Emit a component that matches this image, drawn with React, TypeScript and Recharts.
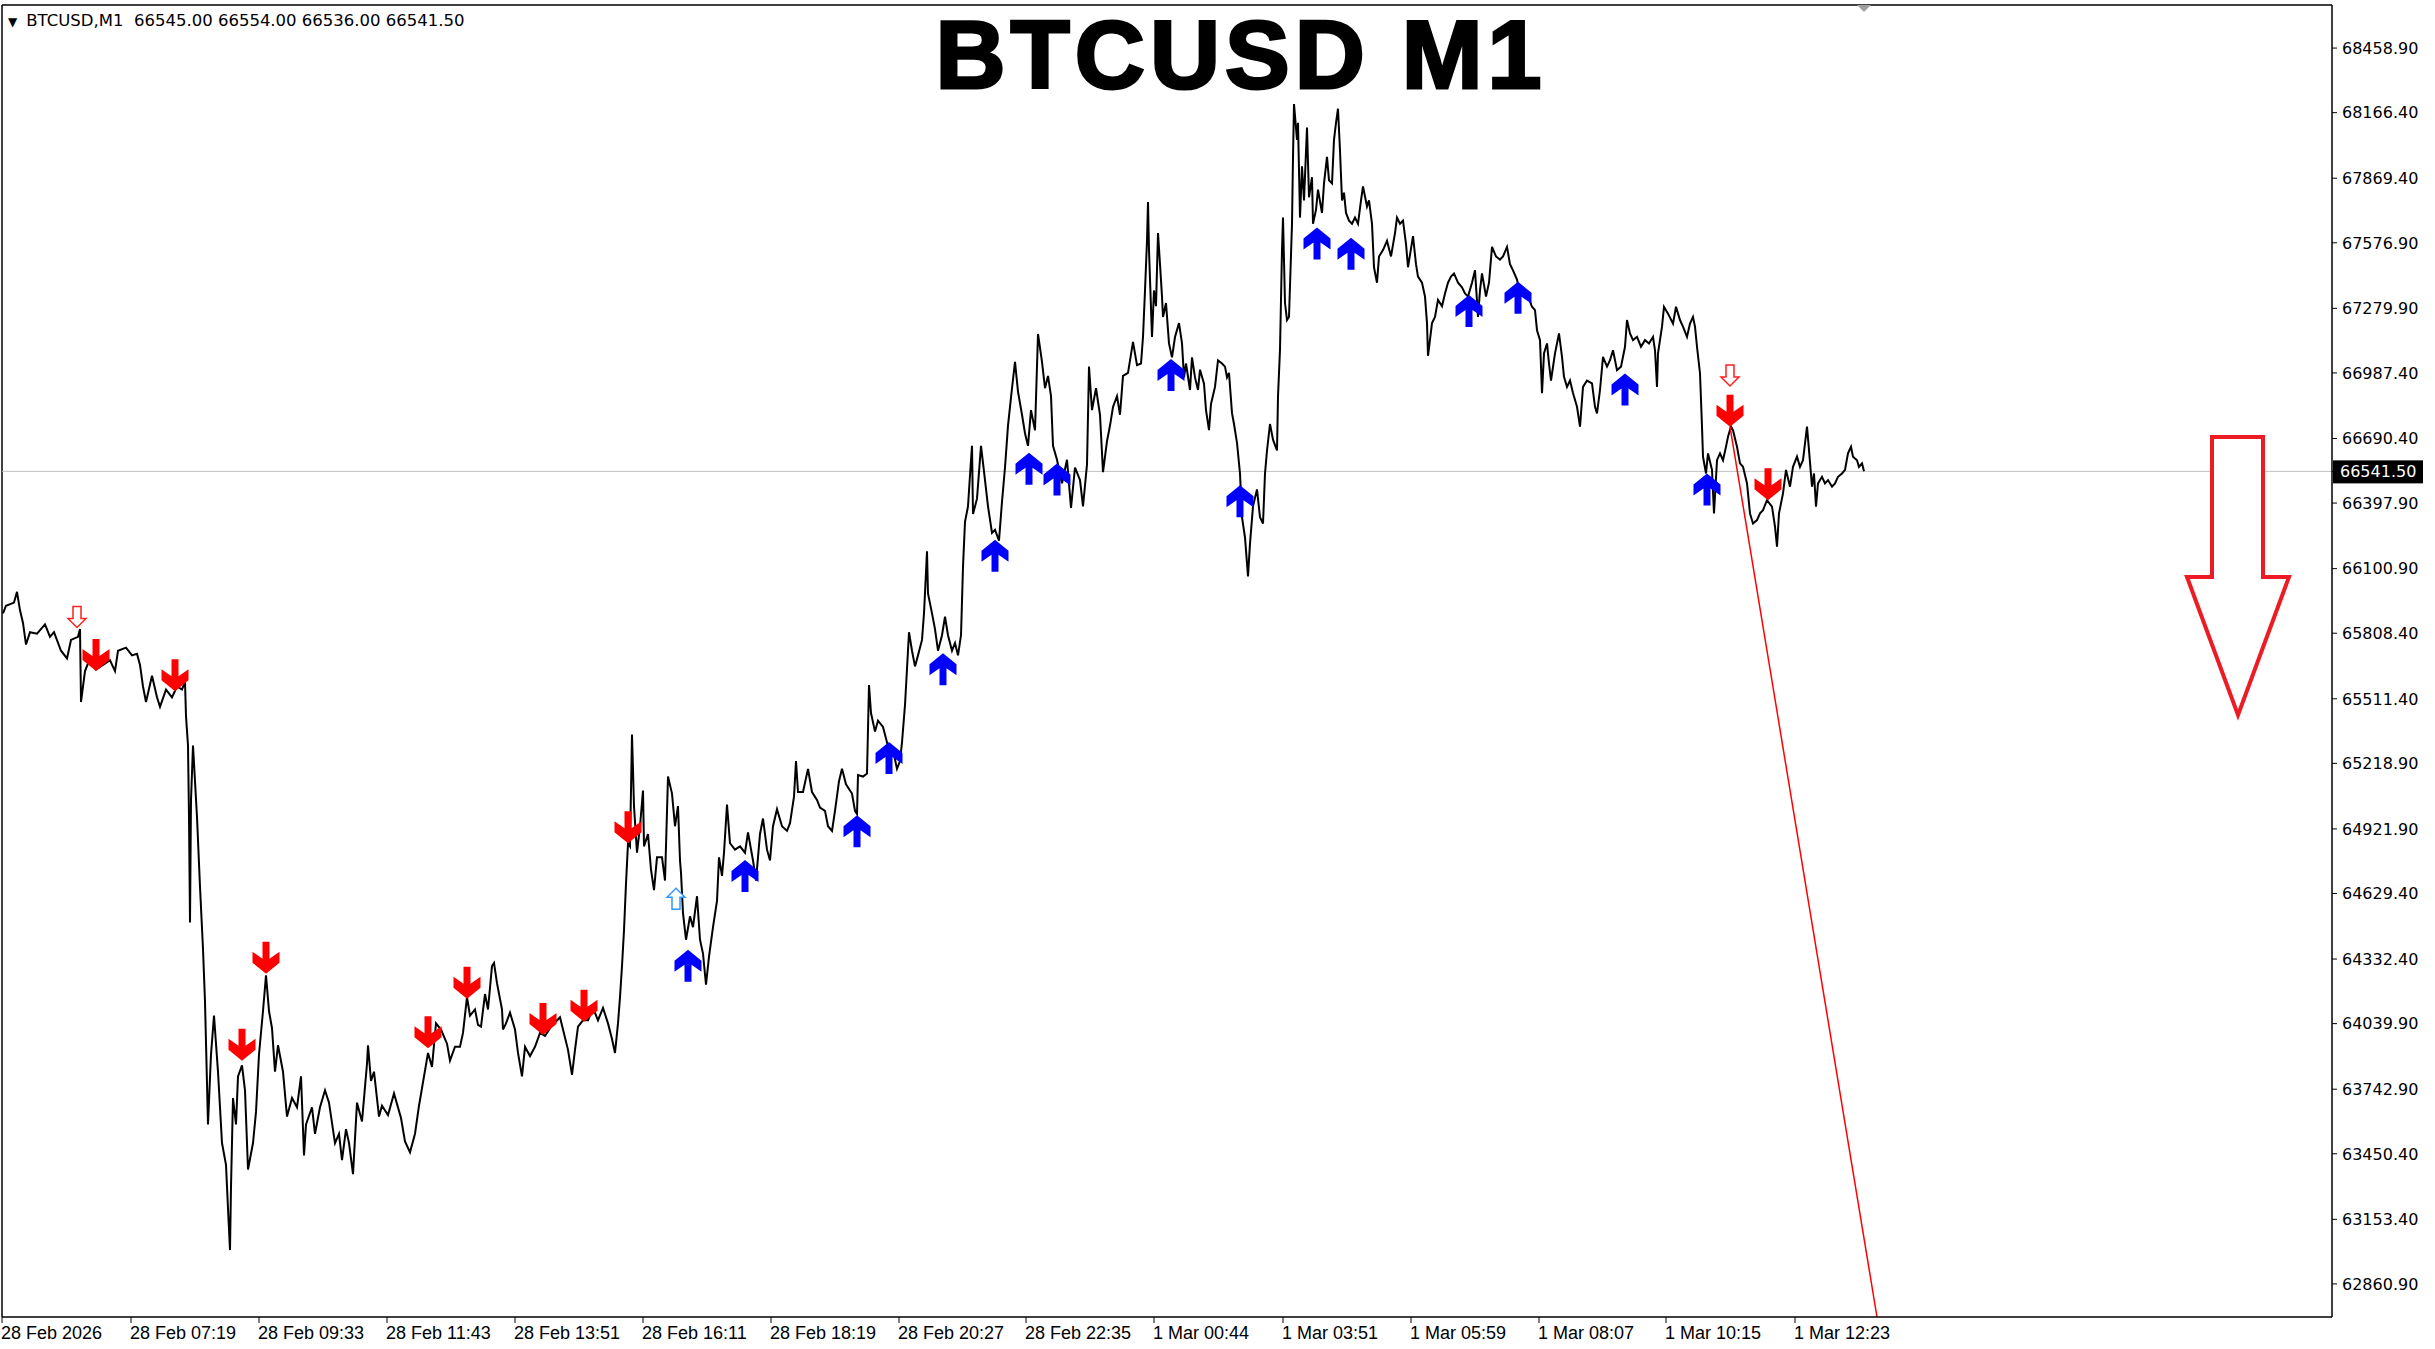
import { ComposedChart, Line, Scatter, XAxis, YAxis, ReferenceLine, ReferenceDot } from 'recharts';

// price axis range of the visible window
const Y_MIN = 62711;
const Y_MAX = 68654;
// bar index range (M1 chart, one bar per pixel)
const X_MIN = 2;
const X_MAX = 2332;
const LAST_PRICE = 66541.5;

const priceTicks = [
  68458.9, 68166.4, 67869.4, 67576.9, 67279.9, 66987.4, 66690.4, 66397.9, 66100.9, 65808.4,
  65511.4, 65218.9, 64921.9, 64629.4, 64332.4, 64039.9, 63742.9, 63450.4, 63153.4, 62860.9,
];

const timeTickBars = [2, 131, 259, 387, 515, 643, 771, 899, 1026, 1154, 1283, 1411, 1539, 1666, 1795];
const timeTickLabels = [
  '28 Feb 2026', '28 Feb 07:19', '28 Feb 09:33', '28 Feb 11:43', '28 Feb 13:51', '28 Feb 16:11',
  '28 Feb 18:19', '28 Feb 20:27', '28 Feb 22:35', '1 Mar 00:44', '1 Mar 03:51', '1 Mar 05:59',
  '1 Mar 08:07', '1 Mar 10:15', '1 Mar 12:23',
];

// [bar, price] closes
const feb28Morning: [number, number][] = [
  [3, 65898], [6, 65933], [14, 65947], [17, 65996], [20, 65912], [23, 65855], [26, 65757], [30, 65813],
  [37, 65806], [45, 65848], [50, 65792], [54, 65813], [61, 65729], [67, 65694], [71, 65778], [78, 65792],
  [80, 65827], [81, 65497], [85, 65637], [90, 65694], [96, 65644], [103, 65665], [110, 65686], [115, 65637],
  [118, 65729], [126, 65743], [132, 65708], [137, 65715], [140, 65665], [143, 65567], [146, 65497], [152, 65616],
  [157, 65518], [160, 65475], [166, 65553], [172, 65518], [177, 65567], [182, 65553], [185, 65588], [186, 65433],
  [188, 65300], [189, 64976], [190, 64498], [191, 65053], [193, 65300], [197, 64976], [200, 64660], [203, 64378],
  [205, 64139], [208, 63583], [211, 63900], [214, 64076], [218, 63822], [222, 63499], [226, 63400], [228, 63203],
  [230, 63014], [231, 63302], [233, 63703], [236, 63583], [238, 63801], [242, 63851], [245, 63738], [248, 63379],
  [253, 63499], [256, 63640], [259, 63900], [263, 64097], [266, 64259], [269, 64097], [272, 64019], [275, 63822],
  [278, 63942], [283, 63822], [287, 63619], [292, 63703], [297, 63661], [301, 63801], [304, 63443], [306, 63583],
  [312, 63661], [315, 63541], [320, 63661], [325, 63738], [329, 63682], [335, 63499], [339, 63541], [342, 63422],
  [346, 63562], [349, 63499], [353, 63358], [357, 63682], [362, 63597], [367, 63858], [368, 63942], [371, 63780],
  [374, 63822], [379, 63619],
];

const feb28Midday: [number, number][] = [
  [382, 63668], [388, 63626], [394, 63724], [401, 63612], [405, 63506], [410, 63457], [415, 63541], [419, 63668],
  [424, 63801], [428, 63907], [432, 63844], [436, 64041], [441, 64013], [447, 63949], [450, 63872], [455, 63935],
  [460, 63935], [463, 63998], [467, 64160], [470, 64076], [475, 64104], [478, 64034], [481, 64026], [485, 64174],
  [488, 64104], [492, 64301], [494, 64315], [497, 64223], [502, 64104], [503, 64013], [506, 64041], [510, 64090],
  [515, 64013], [518, 63907], [522, 63801], [525, 63935], [530, 63893], [535, 63935], [540, 63998], [545, 63984],
  [551, 64026], [560, 64069], [563, 64013], [568, 63921], [572, 63808], [575, 63921], [578, 64026], [583, 64055],
  [588, 64055], [593, 64111], [598, 64055], [603, 64111], [608, 64041], [612, 63970], [615, 63907], [618, 64041],
  [620, 64160], [622, 64301], [624, 64463], [626, 64674], [628, 64857], [630, 64843], [632, 65349], [634, 65025],
  [637, 64814], [640, 64934], [643, 65096], [644, 64843], [648, 64899], [651, 64737], [654, 64645], [657, 64793],
  [662, 64793], [665, 64688], [668, 65159], [672, 65082], [675, 64934], [678, 65025], [680, 64779], [681, 64723],
  [683, 64540], [686, 64420], [690, 64526], [693, 64477], [697, 64617], [700, 64420], [703, 64357], [706, 64216],
  [709, 64343], [713, 64477], [717, 64596], [719, 64793], [722, 64709], [724, 64814], [727, 65032], [730, 64857],
  [735, 64828], [740, 64843], [745, 64814], [748, 64906],
];

const feb28Evening: [number, number][] = [
  [753, 64779], [756, 64688], [760, 64899], [763, 64969], [767, 64828], [770, 64779], [773, 64934], [777, 65011],
  [782, 64934], [787, 64913], [790, 64948], [794, 65068], [796, 65229], [798, 65089], [803, 65089], [808, 65194],
  [812, 65089], [817, 65053], [820, 65018], [825, 65004], [828, 64934], [832, 64913], [835, 65004], [839, 65138],
  [842, 65194], [846, 65124], [852, 65082], [855, 65004], [857, 64990], [858, 65166], [863, 65159], [867, 65173],
  [869, 65574], [871, 65447], [875, 65363], [878, 65412], [883, 65384], [887, 65314], [890, 65243], [893, 65279],
  [897, 65194], [900, 65229], [902, 65314], [905, 65483], [909, 65813], [912, 65729], [915, 65658], [918, 65708],
  [922, 65778], [924, 65898], [927, 66179], [928, 65989], [932, 65898], [935, 65827], [938, 65729], [942, 65799],
  [945, 65883], [948, 65799], [952, 65729], [955, 65764], [958, 65708], [961, 65799], [963, 66109], [965, 66313],
  [968, 66383], [970, 66524], [972, 66657], [973, 66348], [977, 66418], [981, 66657], [985, 66502], [988, 66383],
  [992, 66263], [995, 66277], [999, 66228], [1002, 66404], [1005, 66559], [1008, 66749], [1012, 66918], [1015, 67037],
  [1018, 66903], [1022, 66798], [1025, 66714], [1028, 66657], [1031, 66819], [1035, 66728], [1038, 67164], [1042, 67037],
  [1045, 66918], [1048, 66974], [1051, 66882], [1053, 66657], [1057, 66594], [1062, 66488], [1067, 66594], [1071, 66376],
  [1075, 66559], [1080, 66502], [1083, 66383], [1087, 66573], [1089, 67016], [1092, 66819], [1096, 66918], [1100, 66798],
  [1103, 66538], [1107, 66678], [1110, 66749], [1113, 66833], [1117, 66882], [1120, 66798], [1123, 66974], [1128, 66988],
  [1133, 67128], [1137, 67023], [1141, 67030], [1143, 67150], [1145, 67361], [1147, 67586], [1148, 67762], [1149, 67544],
  [1152, 67150], [1154, 67361], [1156, 67290], [1158, 67621], [1160, 67480], [1162, 67333], [1163, 67241], [1166, 67304],
  [1169, 67121], [1172, 67058], [1175, 67150], [1179, 67213], [1182, 67121], [1184, 66967], [1186, 67030], [1190, 66910],
  [1192, 67058], [1195, 66967], [1198, 66910], [1200, 67002], [1204, 66939], [1206, 66819], [1209, 66728], [1211, 66847],
  [1215, 66924], [1218, 67044], [1222, 67030], [1225, 67016], [1227, 66967], [1229, 66988],
];

const mar1Night: [number, number][] = [
  [1232, 66805], [1234, 66756], [1237, 66671], [1240, 66531], [1242, 66334], [1245, 66242], [1248, 66066], [1250, 66214],
  [1253, 66383], [1257, 66460], [1260, 66334], [1263, 66305], [1265, 66531], [1267, 66636], [1270, 66756], [1273, 66685],
  [1277, 66636], [1278, 66882], [1280, 67093], [1282, 67544], [1283, 67691], [1285, 67304], [1287, 67227], [1289, 67241],
  [1292, 67663], [1293, 67966], [1294, 68205], [1297, 68043], [1298, 68120], [1300, 67691], [1302, 67923], [1304, 67769],
  [1307, 68099], [1309, 67783], [1312, 67874], [1313, 67663], [1316, 67726], [1318, 67818], [1322, 67712], [1324, 67846],
  [1327, 67966], [1329, 67860], [1332, 67846], [1334, 68043], [1336, 68120], [1338, 68184], [1340, 67994], [1342, 67769],
  [1344, 67804], [1346, 67712], [1349, 67677], [1352, 67663], [1355, 67691], [1358, 67663], [1361, 67769], [1363, 67832],
  [1367, 67741], [1369, 67769], [1372, 67663], [1374, 67466], [1377, 67396], [1379, 67515], [1383, 67544], [1387, 67586],
  [1391, 67515], [1395, 67621], [1397, 67691], [1400, 67663], [1403, 67677], [1406, 67572], [1408, 67466], [1413, 67607],
  [1416, 67480], [1418, 67424], [1422, 67396], [1425, 67333], [1427, 67213], [1428, 67065], [1432, 67213], [1435, 67241],
  [1438, 67318], [1442, 67290], [1445, 67347], [1448, 67396], [1451, 67424], [1454, 67438], [1458, 67396], [1462, 67375],
  [1465, 67347], [1468, 67333], [1472, 67396], [1475, 67452], [1478, 67241], [1480, 67361], [1482, 67438], [1486, 67333],
  [1489, 67396], [1492, 67558], [1496, 67515], [1500, 67501], [1503, 67515], [1507, 67558], [1510, 67480], [1513, 67452],
  [1517, 67410], [1520, 67347],
];

const mar1Morning: [number, number][] = [
  [1527, 67347], [1532, 67287], [1535, 67272], [1537, 67181], [1540, 67136], [1542, 66896], [1544, 67076], [1547, 67121],
  [1549, 67030], [1551, 66953], [1555, 67076], [1559, 67166], [1562, 67060], [1564, 66970], [1567, 66924], [1570, 66953],
  [1573, 66896], [1577, 66834], [1580, 66744], [1583, 66924], [1587, 66953], [1592, 66940], [1595, 66834], [1597, 66804],
  [1600, 66910], [1603, 67060], [1607, 67016], [1610, 67045], [1613, 67090], [1617, 67000], [1621, 67016], [1625, 67106],
  [1627, 67227], [1630, 67166], [1633, 67136], [1637, 67151], [1641, 67106], [1645, 67136], [1649, 67121], [1653, 67151],
  [1655, 67090], [1657, 66924], [1658, 67076], [1662, 67197], [1664, 67287], [1668, 67256], [1673, 67211], [1676, 67287],
  [1680, 67227], [1683, 67197], [1687, 67151], [1690, 67211], [1693, 67241], [1695, 67197], [1697, 67106], [1700, 66985],
  [1702, 66744], [1703, 66608], [1706, 66532], [1708, 66623], [1712, 66548], [1714, 66351], [1717, 66592], [1720, 66623],
  [1723, 66592], [1726, 66653], [1728, 66698], [1731, 66744], [1733, 66728], [1737, 66653], [1740, 66578], [1743, 66562],
  [1747, 66487], [1750, 66351], [1753, 66305], [1757, 66321], [1760, 66351], [1763, 66366], [1767, 66411], [1772, 66382],
  [1775, 66291], [1777, 66200], [1779, 66351], [1783, 66442], [1786, 66548], [1790, 66472], [1793, 66562], [1797, 66608],
  [1800, 66562], [1803, 66592], [1807, 66744], [1809, 66638], [1812, 66472], [1814, 66532], [1816, 66382], [1818, 66487],
  [1822, 66517], [1825, 66487], [1828, 66502], [1832, 66472], [1835, 66487], [1838, 66517], [1842, 66532], [1845, 66548],
  [1848, 66623], [1851, 66653], [1853, 66608], [1857, 66592], [1859, 66562], [1862, 66578], [1864, 66541.5],
];

// indicator signals: [bar, price at the arrow tip]
const sellSignals: [number, number][] = [
  [96, 65637], [175, 65546], [242, 63872], [266, 64266], [428, 63928], [467, 64153], [543, 63988], [584, 64048],
  [628, 64857], [1730, 66744], [1768, 66411],
];
const buySignals: [number, number][] = [
  [688, 64374], [745, 64781], [857, 64984], [889, 65316], [943, 65718], [995, 66232], [1029, 66626], [1057, 66577],
  [1171, 67051], [1240, 66479], [1317, 67646], [1351, 67600], [1469, 67340], [1518, 67400], [1625, 66985], [1707, 66532],
];
const sellWarnings: [number, number][] = [[77, 65834], [1730, 66928]];
const buyWarnings: [number, number][] = [[676, 64653]];

// hand-drawn objects
const trendFrom: [number, number] = [1730, 66744];
const trendTo: [number, number] = [1877, 62711];
const bigArrowTip: [number, number] = [2238, 65438];
const shiftMarkBar = 1864;

const toPoints = (rows: [number, number][]) => rows.map(([t, p]) => ({ t, p }));
const priceData = toPoints([...feb28Morning, ...feb28Midday, ...feb28Evening, ...mar1Night, ...mar1Morning]);

const poly = (cx: number, cy: number, pts: number[][], flip = false) =>
  pts.map(([x, y]) => `${cx + x},${cy + (flip ? -y : y)}`).join(' ');

const SOLID = [[-3.5, -32], [3.5, -32], [3.5, -15], [13.5, -22], [13.5, -11], [0, 0], [-13.5, -11], [-13.5, -22], [-3.5, -15]];
const HOLLOW = [[-4, -21], [4, -21], [4, -9], [9, -9], [0, 0], [-9, -9], [-4, -9]];
const BIG = [[-26, -278], [25, -278], [25, -138], [51, -138], [0, 0], [-51, -138], [-26, -138]];

const SellArrow = (props: any) => <polygon points={poly(props.cx, props.cy, SOLID)} fill="#ff0000" />;
const BuyArrow = (props: any) => <polygon points={poly(props.cx, props.cy, SOLID, true)} fill="#0000ff" />;
const SellWarn = (props: any) => (
  <polygon points={poly(props.cx, props.cy, HOLLOW)} fill="#fff" stroke="#ff2020" strokeWidth={1.5} />
);
const BuyWarn = (props: any) => (
  <polygon points={poly(props.cx, props.cy, HOLLOW, true)} fill="#fff" stroke="#3399ff" strokeWidth={1.5} />
);
const BigArrow = (props: any) => (
  <polygon
    points={poly(props.cx, props.cy, BIG)}
    fill="#fff"
    stroke="#ed1c24"
    strokeWidth={4}
    strokeLinejoin="miter"
  />
);
const ShiftMark = (props: any) => (
  <polygon points={poly(props.cx, props.cy, [[-7, 0], [7, 0], [0, 7]])} fill="#a0a0a0" />
);

const PriceTick = (props: any) => {
  const { x, y, payload } = props;
  const v = payload.value as number;
  if (v === LAST_PRICE) {
    return (
      <g>
        <rect x={x - 9} y={y - 11} width={90} height={23} fill="#000" />
        <text x={x - 2} y={y} dy="0.36em" fill="#fff" fontSize={16} fontFamily="DejaVu Sans">
          {v.toFixed(2)}
        </text>
      </g>
    );
  }
  return (
    <text x={x} y={y} dy="0.36em" fill="#000" fontSize={16} fontFamily="DejaVu Sans">
      {v.toFixed(2)}
    </text>
  );
};

const TimeTick = (props: any) => {
  const { x, y, payload } = props;
  const i = timeTickBars.indexOf(payload.value);
  return (
    <text x={x - 1} y={y} dy={14} textAnchor="start" fill="#000" fontSize={18} fontFamily="Liberation Sans">
      {timeTickLabels[i]}
    </text>
  );
};

export default function App() {
  return (
    <div style={{ position: 'absolute', left: 0, top: 0, width: 2435, height: 1349, background: '#fff', overflow: 'hidden' }}>
      <ComposedChart width={2435} height={1349} margin={{ top: 5, right: 0, bottom: 0, left: 2 }}>
        <XAxis
          type="number"
          dataKey="t"
          domain={[X_MIN, X_MAX]}
          ticks={timeTickBars}
          interval={0}
          allowDataOverflow
          height={32}
          tickSize={6}
          tickMargin={2}
          axisLine={{ stroke: '#000', strokeWidth: 1.5 }}
          tickLine={{ stroke: '#000' }}
          tick={<TimeTick />}
        />
        <YAxis
          orientation="right"
          dataKey="p"
          domain={[Y_MIN, Y_MAX]}
          ticks={[...priceTicks, LAST_PRICE]}
          interval={0}
          allowDataOverflow
          width={103}
          tickSize={5}
          tickMargin={5}
          axisLine={{ stroke: '#000', strokeWidth: 1.5 }}
          tickLine={{ stroke: '#000' }}
          tick={<PriceTick />}
        />
        <ReferenceLine x={X_MIN} stroke="#000" strokeWidth={1.5} />
        <ReferenceLine y={Y_MAX} stroke="#000" strokeWidth={1.5} />
        <ReferenceLine y={LAST_PRICE} stroke="#c0c0c0" strokeWidth={1} />
        <Line
          data={priceData}
          dataKey="p"
          type="linear"
          stroke="#000"
          strokeWidth={2}
          dot={false}
          activeDot={false}
          isAnimationActive={false}
        />
        <ReferenceLine
          segment={[{ x: trendFrom[0], y: trendFrom[1] }, { x: trendTo[0], y: trendTo[1] }]}
          stroke="#ff0000"
          strokeWidth={1.5}
        />
        <Scatter data={toPoints(sellSignals)} dataKey="p" shape={SellArrow} isAnimationActive={false} />
        <Scatter data={toPoints(buySignals)} dataKey="p" shape={BuyArrow} isAnimationActive={false} />
        <Scatter data={toPoints(sellWarnings)} dataKey="p" shape={SellWarn} isAnimationActive={false} />
        <Scatter data={toPoints(buyWarnings)} dataKey="p" shape={BuyWarn} isAnimationActive={false} />
        <Scatter data={toPoints([bigArrowTip])} dataKey="p" shape={BigArrow} isAnimationActive={false} />
        <ReferenceDot x={shiftMarkBar} y={Y_MAX} r={0} shape={ShiftMark} />
      </ComposedChart>
      <div
        style={{
          position: 'absolute',
          left: 8,
          top: 11,
          fontFamily: 'DejaVu Sans',
          fontSize: 16.5,
          lineHeight: '20px',
          color: '#000',
          whiteSpace: 'pre',
        }}
      >
        <span style={{ fontSize: 12, marginRight: 9 }}>▼</span>
        BTCUSD,M1  66545.00 66554.00 66536.00 66541.50
      </div>
      <div
        style={{
          position: 'absolute',
          left: 1241,
          top: 0,
          transform: 'translateX(-50%)',
          whiteSpace: 'nowrap',
          fontFamily: 'Liberation Sans',
          fontWeight: 700,
          fontSize: 97,
          lineHeight: '109px',
          letterSpacing: 5,
          color: '#000',
          WebkitTextStroke: '3px #000',
        }}
      >
        BTCUSD M1
      </div>
    </div>
  );
}
